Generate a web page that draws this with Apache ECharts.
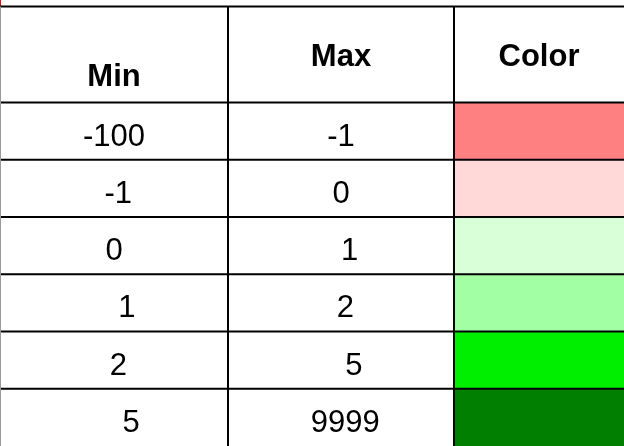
<!DOCTYPE html>
<html><head><meta charset="utf-8">
<script src="https://cdn.jsdelivr.net/npm/echarts@6/dist/echarts.min.js"></script>
<style>html,body{margin:0;padding:0;background:#fff}#c{width:624px;height:446px}</style>
</head><body><div id="c"></div>
<script>
// ---- data ----
const headers = ['Min', 'Max', 'Color'];
const minLabels = ['-100', ' -1', '0', '   1', ' 2', '    5'];
const maxLabels = ['-1', '0', '  1', ' 2', '   5', ' 9999'];
const rangeColors = ['#FF8080', '#FFD8D8', '#D8FFD8', '#A3FFA3', '#00EE00', '#007F00'];

// ---- layout ----
const colWidths = [228, 226, 170];
const colEdges = [0];
colWidths.forEach(w => colEdges.push(colEdges[colEdges.length - 1] + w));
const headerRows = 1.675;          // header height, in row units
const rowPx = 57.6;
const rowCount = minLabels.length;
const FONT = "'Liberation Sans', Arial, sans-serif";

const cells = [];
headers.forEach((h, c) => cells.push({ value: [c, -1], kind: 'header', text: h }));
for (let r = 0; r < rowCount; r++) {
  cells.push({ value: [0, r], kind: 'text', text: minLabels[r] });
  cells.push({ value: [1, r], kind: 'text', text: maxLabels[r] });
  cells.push({ value: [2, r], kind: 'color', color: rangeColors[r] });
}

const borders = [];
borders.push({ from: [0, -headerRows], to: [colEdges[3], -headerRows], w: 2, c: '#000' });
for (let r = 0; r < rowCount; r++) borders.push({ from: [0, r], to: [colEdges[3], r], w: 2, c: '#000' });
borders.push({ from: [colEdges[1], -headerRows], to: [colEdges[1], rowCount], w: 2, c: '#000' });
borders.push({ from: [colEdges[2], -headerRows], to: [colEdges[2], rowCount], w: 2, c: '#000' });
borders.push({ from: [0, -headerRows], to: [0, rowCount], w: 1, c: '#9a9a9a', dx: 0.5 });

function cellRect(api, c, r) {
  const y0 = r < 0 ? -headerRows : r, y1 = r < 0 ? 0 : r + 1;
  const p0 = api.coord([colEdges[c], y0]);
  const p1 = api.coord([colEdges[c + 1], y1]);
  return { x: p0[0], y: p0[1], w: p1[0] - p0[0], h: p1[1] - p0[1] };
}

const chart = echarts.init(document.getElementById('c'), null, { renderer: 'canvas' });
chart.setOption({
  animation: false,
  backgroundColor: '#fff',
  grid: { left: 0, top: 6.5, width: colEdges[3], height: (headerRows + rowCount) * rowPx },
  xAxis: { type: 'value', min: 0, max: colEdges[3], show: false },
  yAxis: { type: 'value', inverse: true, min: -headerRows, max: rowCount, show: false },
  graphic: [{ type: 'rect', left: 0, top: 0, shape: { width: 1, height: 6 }, style: { fill: '#ff0000' } }],
  series: [
    {
      type: 'custom',
      data: cells.map(d => d.value),
      clip: false,
      z: 2,
      renderItem: function (params, api) {
        const d = cells[params.dataIndex];
        const R = cellRect(api, d.value[0], d.value[1]);
        if (d.kind === 'color') {
          return { type: 'rect', shape: { x: R.x, y: R.y, width: R.w, height: R.h }, style: { fill: d.color } };
        }
        let ty;
        if (d.kind === 'header') {
          ty = d.value[0] === 0 ? R.y + R.h - 25 : R.y + R.h / 2 + 3;
        } else {
          ty = R.y + R.h / 2 + 6;
        }
        return {
          type: 'text',
          x: R.x + R.w / 2,
          y: ty,
          style: {
            text: d.text,
            fill: '#000',
            fontSize: 31,
            fontFamily: FONT,
            fontWeight: d.kind === 'header' ? 'bold' : 'normal',
            align: 'center',
            verticalAlign: 'middle'
          }
        };
      }
    },
    {
      type: 'custom',
      data: borders.map((b, i) => [i]),
      clip: false,
      z: 3,
      renderItem: function (params, api) {
        const b = borders[params.dataIndex];
        const p0 = api.coord(b.from), p1 = api.coord(b.to);
        const dx = b.dx || 0;
        return {
          type: 'line',
          shape: { x1: p0[0] + dx, y1: p0[1], x2: p1[0] + dx, y2: p1[1] },
          style: { stroke: b.c, lineWidth: b.w }
        };
      }
    }
  ]
});
</script></body></html>
